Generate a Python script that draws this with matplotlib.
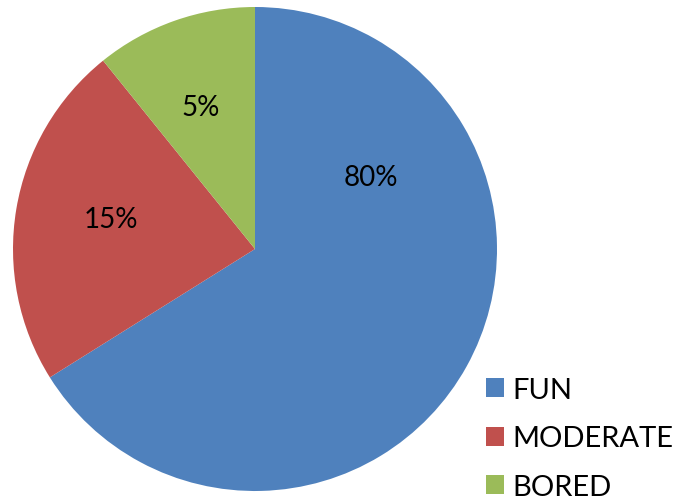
import matplotlib.pyplot as plt

# Данные (доли секторов, подписи - как на картинке)
categories = ['FUN', 'MODERATE', 'BORED']
sizes = [66.1, 23.1, 10.8]
pct_labels = ['80%', '15%', '5%']
colors = ['#4F81BD', '#C0504D', '#9BBB59']

plt.rcParams['font.family'] = ['Lato', 'DejaVu Sans']

fig = plt.figure(figsize=(6.75, 5.02), dpi=100)
ax = fig.add_axes([0, 0, 1, 1])

wedges, _ = ax.pie(sizes, colors=colors, startangle=90, counterclock=False,
                   center=(255, 252), radius=242, frame=True,
                   wedgeprops=dict(linewidth=0))
ax.set_xlim(0, 675)
ax.set_ylim(0, 502)
ax.set_aspect('equal')
ax.axis('off')

# Подписи процентов
label_pos = [(371, 324), (111, 282), (201, 394)]
for (x, y), txt in zip(label_pos, pct_labels):
    ax.text(x, y, txt, ha='center', va='center', fontsize=20, color='black')

# Легенда
ax.legend(wedges, categories, loc='upper left', bbox_to_anchor=(471 / 675, 1 - 363 / 502),
          frameon=False, fontsize=21, handlelength=0.62, handleheight=0.62,
          handletextpad=0.3, labelspacing=0.78, borderpad=0)

fig.savefig('out.png', dpi=100)
